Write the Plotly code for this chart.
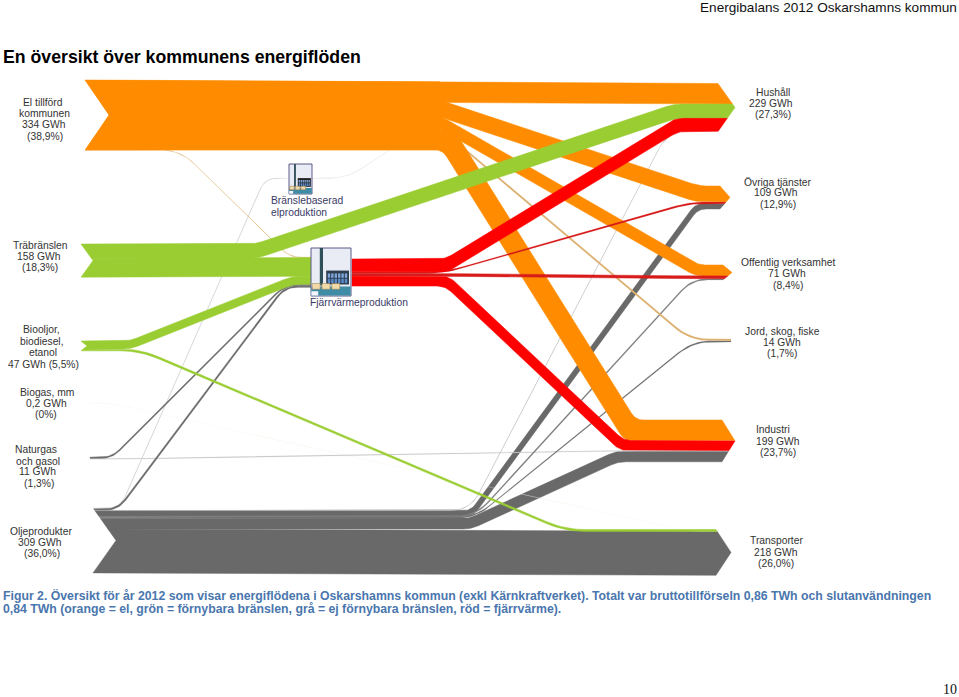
import math
import plotly.graph_objects as go

# ---------- DATA (GWh) ----------
SOURCES = ["El tillförd kommunen"] * 6 + ["Träbränslen"] * 2 + ["Biooljor"] * 2 + ["Biogas"] \
    + ["Fjärrvärmeproduktion"] * 4 + ["Naturgas"] * 2 + ["Oljeprodukter"] * 8 + ["Bränslebaserad elproduktion"]
TARGETS = ["Hushåll", "Övriga tjänster", "Offentlig verksamhet", "Jord, skog, fiske", "Industri", "Fjärrvärmeproduktion",
           "Hushåll", "Fjärrvärmeproduktion",
           "Fjärrvärmeproduktion", "Transporter",
           "Transporter",
           "Hushåll", "Övriga tjänster", "Offentlig verksamhet", "Industri",
           "Fjärrvärmeproduktion", "Industri",
           "Bränslebaserad elproduktion", "Fjärrvärmeproduktion", "Hushåll", "Övriga tjänster",
           "Offentlig verksamhet", "Jord, skog, fiske", "Industri", "Transporter",
           "El in"]
VALUES = [98, 76, 52, 8, 98, 2,
          68, 90,
          38, 9,
          0.2,
          61, 8, 13, 47,
          7, 4,
          3, 8, 2, 25, 6, 6, 50, 209,
          2]

TOP_HEADER = "Energibalans 2012 Oskarshamns kommun"
TITLE = "En översikt över kommunens energiflöden"
CAPTION_LINES = [
    "Figur 2. Översikt för år 2012 som visar energiflödena i Oskarshamns kommun (exkl Kärnkraftverket). Totalt var bruttotillförseln 0,86 TWh och slutanvändningen",
    "0,84 TWh (orange = el, grön = förnybara bränslen, grå = ej förnybara bränslen, röd = fjärrvärme).",
]
PAGE_NUMBER = "10"

# ---------- LAYOUT / STYLE ----------
W, H = 959, 697
PX_PER_GWH = 0.21

NODE_LAYOUT = {
    "El tillförd kommunen": dict(x=85, y=80, notch=24, block_to=440),
    "Träbränslen": dict(x=81, y=244, notch=12),
    "Biooljor": dict(x=81, y=341, notch=6),
    "Biogas": dict(x=90, y=403),
    "Naturgas": dict(x=90, y=457),
    "Oljeprodukter": dict(x=93, y=508, notch=23),
    "Fjärrvärmeproduktion": dict(x=352, y=259, xin=311, yin=257),
    "Bränslebaserad elproduktion": dict(x=312, y=178, xin=289, yin=178),
    "El in": dict(xin=395, yin=149.5),
    "Hushåll": dict(xin=718, yin=83.5, tip=17),
    "Övriga tjänster": dict(xin=720, yin=186, tip=10),
    "Offentlig verksamhet": dict(xin=723, yin=265, tip=9),
    "Jord, skog, fiske": dict(xin=731, yin=339),
    "Industri": dict(xin=722, yin=420, tip=13),
    "Transporter": dict(xin=716, yin=529.5, tip=15),
}
# x of the two bends of each flow (None: a straight run)
BENDS = [None, (440, 698), (440, 697), (440, 690), (448, 630), (180, 290),
         (256, 675), None,
         (130, 293), (140, 565),
         (110, 690),
         (447, 677), (445, 690), (442, 690), (447, 622),
         (112, 285), (125, 615),
         (120, 265), (118, 285), (470, 668), (472, 697), (475, 692), (475, 693), (470, 617), None,
         (347, 390)]
ORANGE, GREEN, RED, GREY = "#FF8C00", "#9ACD32", "#FF0000", "#696969"
TAN, FAINT, PALE = "#DDB070", "#F4F1E6", "#E6E6E6"
COLORS = [ORANGE, ORANGE, ORANGE, TAN, ORANGE, TAN,
          GREEN, GREEN,
          GREEN, GREEN,
          FAINT,
          RED, "#D81B1B", "#D81B1B", RED,
          "#6E6E6E", "#C8C8C8",
          "#D2D2D2", "#6E6E6E", "#B8B8B8", GREY, "#808080", "#707070", GREY, GREY,
          PALE]
DRAW_ORDER = [GREY, FAINT, PALE, "#D2D2D2", "#C8C8C8", "#B8B8B8", "#808080", "#707070", "#6E6E6E",
              TAN, ORANGE, GREEN, "#D81B1B", RED]

LABEL_COLOR = "#333333"
# text, x centre, y centre
LABELS = [
    ("El tillförd", 43, 102), ("kommunen", 44, 113), ("334 GWh", 44, 124), ("(38,9%)", 45, 136),
    ("Träbränslen", 40, 245), ("158 GWh", 39, 256), ("(18,3%)", 40, 267),
    ("Biooljor,", 41, 329), ("biodiesel,", 42, 341), ("etanol", 43, 352), ("47 GWh (5,5%)", 43, 364),
    ("Biogas, mm", 47, 392), ("0,2 GWh", 46, 403), ("(0%)", 46, 414),
    ("Naturgas", 36, 449), ("och gasol", 38, 461), ("11 GWh", 37, 471), ("(1,3%)", 39, 483),
    ("Oljeprodukter", 41, 531), ("309 GWh", 40, 542), ("(36,0%)", 42, 553),
    ("Hushåll", 773, 92), ("229 GWh", 771, 103), ("(27,3%)", 773, 114),
    ("Övriga tjänster", 778, 182), ("109 GWh", 776, 192.5), ("(12,9%)", 778, 204),
    ("Offentlig verksamhet", 788, 262.5), ("71 GWh", 787, 273), ("(8,4%)", 788, 285),
    ("Jord, skog, fiske", 782, 331.5), ("14 GWh", 782, 342.5), ("(1,7%)", 782, 353.5),
    ("Industri", 773, 429.5), ("199 GWh", 778, 441), ("(23,7%)", 778, 452),
    ("Transporter", 776, 540.5), ("218 GWh", 776, 552), ("(26,0%)", 776, 563),
]


# ---------- GEOMETRY HELPERS ----------
def mitred_edges(pts, t):
    """Upper and lower edges of a band of perpendicular thickness t round a centre line."""
    upper, lower = [], []
    for i, (x, y) in enumerate(pts):
        dirs = []
        if i > 0:
            dirs.append((x - pts[i - 1][0], y - pts[i - 1][1]))
        if i < len(pts) - 1:
            dirs.append((pts[i + 1][0] - x, pts[i + 1][1] - y))
        units = [(dx / math.hypot(dx, dy), dy / math.hypot(dx, dy)) for dx, dy in dirs]
        nx = sum(-u[1] for u in units) / len(units)
        ny = sum(u[0] for u in units) / len(units)
        n = math.hypot(nx, ny)
        nx, ny = nx / n, ny / n
        scale = 1 / max(0.3, (nx * -units[0][1] + ny * units[0][0]))
        upper.append((x - nx * t / 2 * scale, y - ny * t / 2 * scale))
        lower.append((x + nx * t / 2 * scale, y + ny * t / 2 * scale))
    return upper, lower


def rounded(poly, r):
    out = [poly[0]]
    for i in range(1, len(poly) - 1):
        p0, p, p1 = poly[i - 1], poly[i], poly[i + 1]
        d0, d1 = math.dist(p0, p), math.dist(p, p1)
        rr = min(r, d0 / 2, d1 / 2)
        a = (p[0] + (p0[0] - p[0]) * rr / d0, p[1] + (p0[1] - p[1]) * rr / d0)
        b = (p[0] + (p1[0] - p[0]) * rr / d1, p[1] + (p1[1] - p[1]) * rr / d1)
        for k in range(11):
            s = k / 10
            out.append(((1 - s) ** 2 * a[0] + 2 * s * (1 - s) * p[0] + s ** 2 * b[0],
                        (1 - s) ** 2 * a[1] + 2 * s * (1 - s) * p[1] + s ** 2 * b[1]))
    out.append(poly[-1])
    return out


out_total, in_total = {}, {}
for s, t, v in zip(SOURCES, TARGETS, VALUES):
    out_total[s] = out_total.get(s, 0) + v
    in_total[t] = in_total.get(t, 0) + v
out_used, in_used = {}, {}


def cap(depth, base, top, total):
    """x of a chevron edge at height y, for a node of given top and total height."""
    mid, half = top + total / 2, total / 2
    return lambda y: base + depth * max(0, 1 - abs(y - mid) / half)


traces = []
for s, t, v, bend, c in zip(SOURCES, TARGETS, VALUES, BENDS, COLORS):
    th = v * PX_PER_GWH
    ns, nt = NODE_LAYOUT[s], NODE_LAYOUT[t]
    y0 = ns["y"] + out_used.get(s, 0) + th / 2
    y1 = nt["yin"] + in_used.get(t, 0) + th / 2
    out_used[s] = out_used.get(s, 0) + th
    in_used[t] = in_used.get(t, 0) + th
    x0, x1 = ns["x"], nt["xin"]
    pts = [(x0, y0), (x1, y1)] if bend is None else [(x0, y0), (bend[0], y0), (bend[1], y1), (x1, y1)]
    up, lo = mitred_edges(pts, th)
    radius = 8 if th > 3 else 20
    up, lo = rounded(up, radius), rounded(lo, radius)
    lcap = cap(ns.get("notch", 0), x0, ns["y"], out_total[s] * PX_PER_GWH)
    rcap = cap(nt.get("tip", 0), x1, nt["yin"], in_total[t] * PX_PER_GWH)
    up[0] = (lcap(up[0][1]), up[0][1])
    lo[0] = (lcap(lo[0][1]), lo[0][1])
    up[-1] = (rcap(up[-1][1]), up[-1][1])
    lo[-1] = (rcap(lo[-1][1]), lo[-1][1])
    start_mid, end_mid = [], []
    m = ns["y"] + out_total[s] * PX_PER_GWH / 2
    if ns.get("notch") and up[0][1] < m < lo[0][1]:
        start_mid = [(lcap(m), m)]
    m = nt["yin"] + in_total[t] * PX_PER_GWH / 2
    if nt.get("tip") and up[-1][1] < m < lo[-1][1]:
        end_mid = [(rcap(m), m)]
    poly = up + end_mid + lo[::-1] + start_mid + [up[0]]
    traces.append((DRAW_ORDER.index(c), go.Scatter(
        x=[p[0] for p in poly], y=[p[1] for p in poly], mode="lines", fill="toself", fillcolor=c,
        line=dict(color=c, width=0.5 if th > 1.8 else 0.15),
        name=f"{s} → {t}", text=f"{s} → {t}: {v} GWh", hoveron="fills", hoverinfo="text", showlegend=False)))

# Solid body of a node whose outgoing flows run together before they split
for name, n in NODE_LAYOUT.items():
    if "block_to" in n:
        h = out_total[name] * PX_PER_GWH
        xs = [n["x"], n["block_to"], n["block_to"], n["x"], n["x"] + n["notch"], n["x"]]
        ys = [n["y"], n["y"] + 1.5, n["y"] + h, n["y"] + h, n["y"] + h / 2, n["y"]]
        traces.append((DRAW_ORDER.index(ORANGE), go.Scatter(
            x=xs, y=ys, mode="lines", fill="toself", fillcolor=ORANGE, line=dict(color=ORANGE, width=0),
            hoverinfo="skip", showlegend=False)))

fig = go.Figure([tr for _, tr in sorted(traces, key=lambda a: a[0])])


# ---------- ICONS (decoration) ----------
def rect(x0, y0, x1, y1, fill, line=None, lw=0):
    return dict(type="rect", xref="x", yref="y", x0=x0, y0=y0, x1=x1, y1=y1, fillcolor=fill,
                line=dict(color=line or fill, width=lw), layer="above")


def icon(bx0, by0, bx1, by1, dense):
    w, h = bx1 - bx0, by1 - by0
    fx = lambda f: bx0 + w * f
    fy = lambda f: by0 + h * f
    shapes = [rect(bx0, by0, bx1, by1, "#E9EBF5", "#5A5A86", 1)]
    shapes.append(rect(fx(0.01), fy(0.80), fx(0.99), fy(0.99), "#3E8CA6"))
    shapes.append(rect(fx(0.01), fy(0.90), fx(0.18), fy(0.99), "#F4F4FA"))
    shapes.append(rect(fx(0.22), fy(0.0), fx(0.30), fy(0.78), "#2F4F58"))
    shapes.append(rect(fx(0.38), fy(0.47), fx(0.95), fy(0.76), dense))
    for i in range(6):
        shapes.append(rect(fx(0.42 + i * 0.085), fy(0.53), fx(0.48 + i * 0.085), fy(0.62), "#7FA6D8"))
        shapes.append(rect(fx(0.42 + i * 0.085), fy(0.64), fx(0.48 + i * 0.085), fy(0.73), "#5E8CCB"))
    for i in range(3):
        shapes.append(rect(fx(0.03 + i * 0.245), fy(0.74), fx(0.23 + i * 0.245), fy(0.86), "#F1D9A8", "#8A7A55", 0.5))
    return shapes


fig.update_layout(shapes=icon(311, 248, 351, 296, "#2C3E50") + icon(289, 164, 312, 194, "#222222"))


# ---------- TEXT ----------
def note(text, x, y, size, color, family="Liberation Sans", xanchor="center", bold=False):
    fig.add_annotation(x=x, y=y, xref="x", yref="y", text=f"<b>{text}</b>" if bold else text, showarrow=False,
                       font=dict(family=family, size=size, color=color), xanchor=xanchor, yanchor="middle",
                       borderpad=0, align="left")


for text, x, y in LABELS:
    note(text, x, y, 10.3, LABEL_COLOR)
note("Bränslebaserad", 270, 200.5, 10.3, "#3A3A66", xanchor="left")
note("elproduktion", 270, 212.5, 10.3, "#3A3A66", xanchor="left")
note("Fjärrvärmeproduktion", 309, 302.5, 10.3, "#3A3A66", xanchor="left")

note(TOP_HEADER, 958, 7, 13.6, "#111111", xanchor="right")
note(TITLE, 2, 57, 17.7, "#000000", xanchor="left", bold=True)
note(CAPTION_LINES[0], 2, 595, 12.28, "#4A76AE", xanchor="left", bold=True)
note(CAPTION_LINES[1], 2, 608.5, 12.28, "#4A76AE", xanchor="left", bold=True)
note(PAGE_NUMBER, 958, 689, 14, "#111111", family="Liberation Serif", xanchor="right")

fig.update_layout(
    width=W, height=H, margin=dict(l=0, r=0, t=0, b=0, pad=0), showlegend=False,
    paper_bgcolor="white", plot_bgcolor="white",
    xaxis=dict(range=[0, W], visible=False, fixedrange=True),
    yaxis=dict(range=[H, 0], visible=False, fixedrange=True),
)
fig.write_html("out.html", config={"displayModeBar": False}, post_script="document.body.style.margin='0';")
